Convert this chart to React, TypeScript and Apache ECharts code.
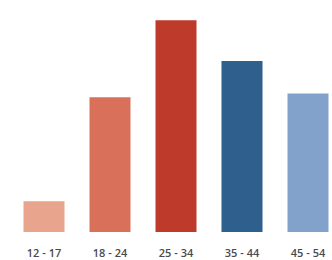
import React, { useEffect, useRef } from "react";
import * as echarts from "echarts";

const categories = ["12 - 17", "18 - 24", "25 - 34", "35 - 44", "45 - 54"];
const values = [4, 17.5, 27.5, 22.2, 18];
const colors = ["#e8a48d", "#d8705a", "#be3a2a", "#2f5f8c", "#82a2cb"];

export default function App() {
  const ref = useRef<HTMLDivElement>(null);
  useEffect(() => {
    const chart = echarts.init(ref.current!, null, { renderer: "svg" });
    chart.setOption({
      animation: false,
      backgroundColor: "#ffffff",
      grid: { left: 11, right: 0, top: 1, bottom: 28, containLabel: false },
      xAxis: {
        type: "category",
        data: categories,
        axisLine: { show: false },
        axisTick: { show: false },
        axisLabel: {
          color: "#4a4a4a",
          fontSize: 11,
          fontWeight: 600,
          fontFamily: "Open Sans",
          margin: 15,
          interval: 0,
        },
      },
      yAxis: {
        type: "value",
        min: 0,
        max: 30,
        show: false,
        splitLine: { show: false },
      },
      series: [
        {
          type: "bar",
          barWidth: 41,
          data: values.map((v, i) => ({ value: v, itemStyle: { color: colors[i] } })),
        },
      ],
    });
    return () => chart.dispose();
  }, []);
  return (
    <div style={{ position: "fixed", left: 0, top: 0, width: 332, height: 260, overflow: "hidden", background: "#fff" }}>
      <div ref={ref} style={{ position: "absolute", left: 0, top: 0, width: 341, height: 260 }} />
    </div>
  );
}
